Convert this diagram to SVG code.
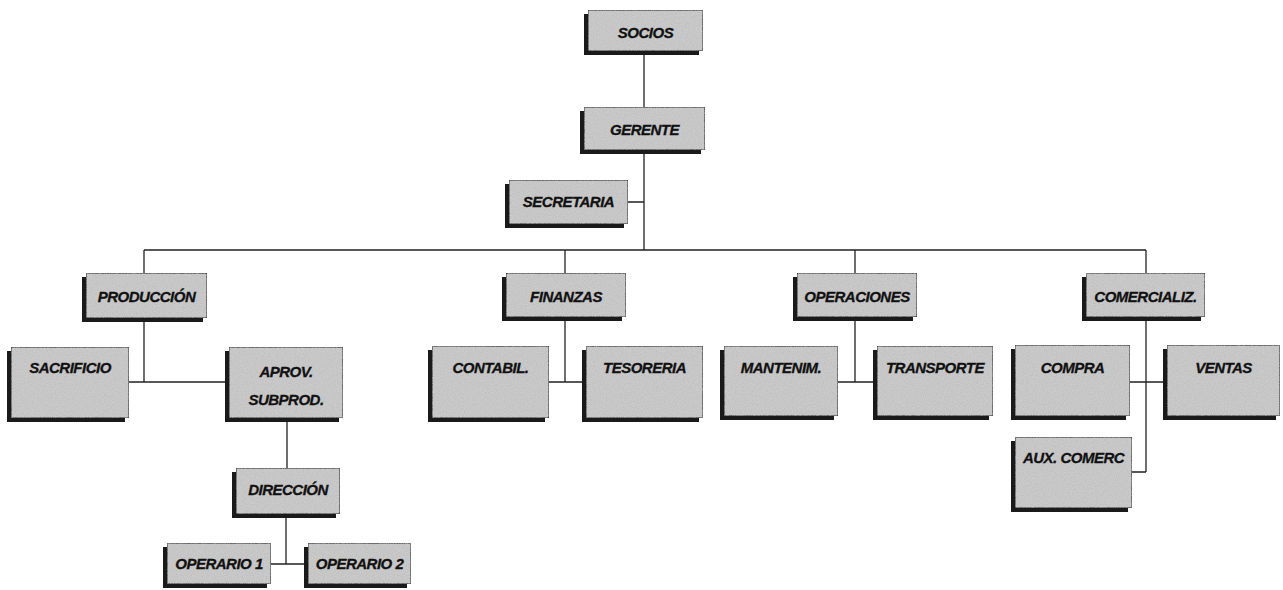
<svg xmlns="http://www.w3.org/2000/svg" width="1283" height="590" viewBox="0 0 1283 590">
<defs>
<filter id="grain" x="0" y="0" width="1" height="1">
<feTurbulence type="fractalNoise" baseFrequency="0.9" numOctaves="2" seed="3" result="n"/>
<feColorMatrix in="n" type="matrix" values="0 0 0 0 0.45  0 0 0 0 0.45  0 0 0 0 0.45  0 0 0 1.2 -0.45" result="g"/>
<feComposite in="g" in2="SourceGraphic" operator="in" result="gg"/>
<feMerge><feMergeNode in="SourceGraphic"/><feMergeNode in="gg"/></feMerge>
</filter>
</defs>
<style>
.sh{fill:#1a1a1a}
.bx{fill:#cacaca;stroke:#2a2a2a;stroke-width:1.2}
.t{font-family:"Liberation Sans",Arial,sans-serif;font-weight:bold;font-style:italic;font-size:15px;letter-spacing:-0.5px;fill:#111;stroke:#111;stroke-width:0.3;text-anchor:middle}
.c{stroke:#222;stroke-width:1.3;fill:none}
</style>
<rect width="1283" height="590" fill="#ffffff"/>
<g id="connectors">
<path class="c" d="M644 51V107M644 150V250M628 202H644M144 250H1146M144 250V273M565 250V273M855 250V273M1146 250V273"/>
<path class="c" d="M144 318V382M129 382H225M287 418V468M286 514V564M271 564H304"/>
<path class="c" d="M565 317V382M549 382H582M855 317V382M838 382H873"/>
<path class="c" d="M1146 317V472M1130 382H1163M1132 472H1146"/>
</g>
<g id="socios"><rect class="sh" x="584" y="14" width="115" height="41"/><rect class="bx" x="588" y="10" width="115" height="41" filter="url(#grain)"/><text class="t" x="645.5" y="38">SOCIOS</text></g>
<g id="gerente"><rect class="sh" x="580" y="111" width="121" height="43"/><rect class="bx" x="584" y="107" width="121" height="43" filter="url(#grain)"/><text class="t" x="644.5" y="135">GERENTE</text></g>
<g id="secretaria"><rect class="sh" x="505" y="184" width="119" height="44"/><rect class="bx" x="509" y="180" width="119" height="44" filter="url(#grain)"/><text class="t" x="568.5" y="207">SECRETARIA</text></g>
<g id="produccion"><rect class="sh" x="82" y="277" width="121" height="45"/><rect class="bx" x="86" y="273" width="121" height="45" filter="url(#grain)"/><text class="t" x="146.5" y="302">PRODUCCIÓN</text></g>
<g id="finanzas"><rect class="sh" x="502" y="277" width="120" height="44"/><rect class="bx" x="506" y="273" width="120" height="44" filter="url(#grain)"/><text class="t" x="566" y="302">FINANZAS</text></g>
<g id="operaciones"><rect class="sh" x="793" y="277" width="120" height="44"/><rect class="bx" x="797" y="273" width="120" height="44" filter="url(#grain)"/><text class="t" x="857" y="302">OPERACIONES</text></g>
<g id="comercializ"><rect class="sh" x="1082" y="277" width="119" height="44"/><rect class="bx" x="1086" y="273" width="119" height="44" filter="url(#grain)"/><text class="t" x="1145.5" y="302">COMERCIALIZ.</text></g>
<g id="sacrificio"><rect class="sh" x="7" y="351" width="118" height="71"/><rect class="bx" x="11" y="347" width="118" height="71" filter="url(#grain)"/><text class="t" x="70" y="373">SACRIFICIO</text></g>
<g id="aprov"><rect class="sh" x="225" y="351" width="114" height="71"/><rect class="bx" x="229" y="347" width="114" height="71" filter="url(#grain)"/><text class="t" x="286" y="377">APROV.</text><text class="t" x="286" y="405">SUBPROD.</text></g>
<g id="contabil"><rect class="sh" x="428" y="350" width="117" height="72"/><rect class="bx" x="432" y="346" width="117" height="72" filter="url(#grain)"/><text class="t" x="490.5" y="373">CONTABIL.</text></g>
<g id="tesoreria"><rect class="sh" x="582" y="350" width="117" height="72"/><rect class="bx" x="586" y="346" width="117" height="72" filter="url(#grain)"/><text class="t" x="644.5" y="373">TESORERIA</text></g>
<g id="mantenim"><rect class="sh" x="720" y="350" width="114" height="70"/><rect class="bx" x="724" y="346" width="114" height="70" filter="url(#grain)"/><text class="t" x="781" y="373">MANTENIM.</text></g>
<g id="transporte"><rect class="sh" x="873" y="350" width="116" height="70"/><rect class="bx" x="877" y="346" width="116" height="70" filter="url(#grain)"/><text class="t" x="935" y="373">TRANSPORTE</text></g>
<g id="compra"><rect class="sh" x="1011" y="349" width="115" height="71"/><rect class="bx" x="1015" y="345" width="115" height="71" filter="url(#grain)"/><text class="t" x="1072.5" y="373">COMPRA</text></g>
<g id="ventas"><rect class="sh" x="1163" y="349" width="113" height="71"/><rect class="bx" x="1167" y="345" width="113" height="71" filter="url(#grain)"/><text class="t" x="1223.5" y="373">VENTAS</text></g>
<g id="auxcomerc"><rect class="sh" x="1011" y="441" width="117" height="71"/><rect class="bx" x="1015" y="437" width="117" height="71" filter="url(#grain)"/><text class="t" x="1073.5" y="463">AUX. COMERC</text></g>
<g id="direccion"><rect class="sh" x="232" y="472" width="104" height="46"/><rect class="bx" x="236" y="468" width="104" height="46" filter="url(#grain)"/><text class="t" x="288" y="495">DIRECCIÓN</text></g>
<g id="operario1"><rect class="sh" x="163" y="547" width="104" height="41"/><rect class="bx" x="167" y="543" width="104" height="41" filter="url(#grain)"/><text class="t" x="219" y="569">OPERARIO 1</text></g>
<g id="operario2"><rect class="sh" x="304" y="547" width="103" height="41"/><rect class="bx" x="308" y="543" width="103" height="41" filter="url(#grain)"/><text class="t" x="359.5" y="569">OPERARIO 2</text></g>
</svg>
